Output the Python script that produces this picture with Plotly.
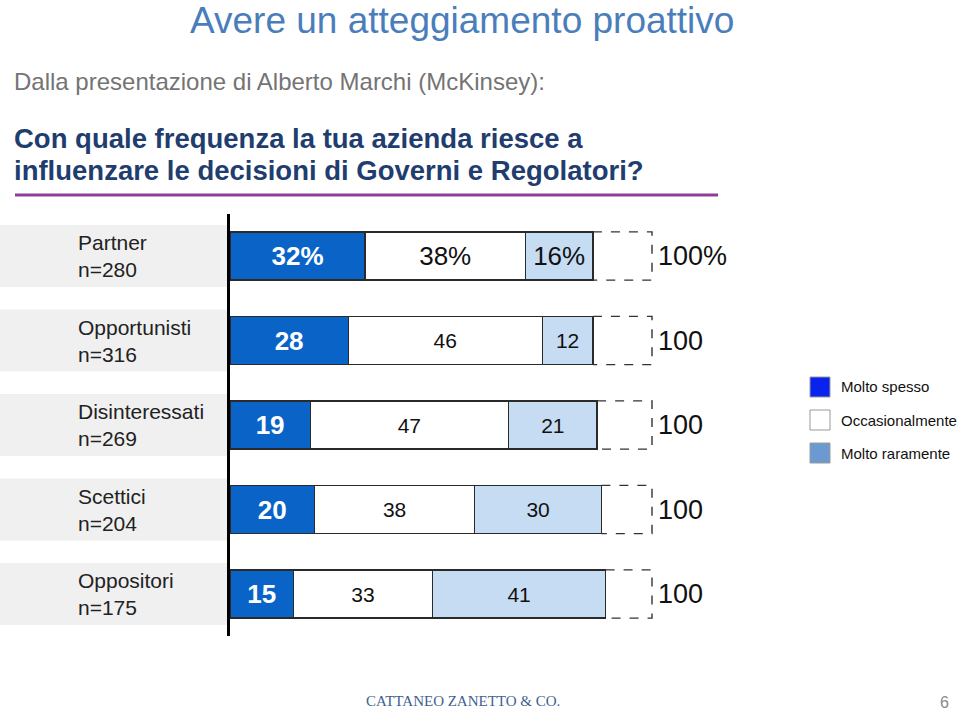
import plotly.graph_objects as go

# ---- data ----
groups = ["Partner", "Opportunisti", "Disinteressati", "Scettici", "Oppositori"]
sample_sizes = [280, 316, 269, 204, 175]
molto_spesso = [32, 28, 19, 20, 15]
occasionalmente = [38, 46, 47, 38, 33]
molto_raramente = [16, 12, 21, 30, 41]
totals = [100, 100, 100, 100, 100]
series_names = ["Molto spesso", "Occasionalmente", "Molto raramente"]

W, H = 960, 713
PX_PER_UNIT = 4.22
X0_PX = 230
SANS = "Liberation Sans, Arial, Helvetica, sans-serif"

bar_colors = ["#0A64C8", "#FFFFFF", "#C6DCF3"]
legend_colors = ["#0A22EE", "#FFFFFF", "#6A9AD0"]
BAR_W = 0.57

ypos = list(range(len(groups)))


def fmt(v, i):
    return f"{v}%" if i == 0 else f"{v}"


fig = go.Figure()
series = [molto_spesso, occasionalmente, molto_raramente]
for s, (name, vals) in enumerate(zip(series_names, series)):
    if s == 0:
        sizes = [26] * len(ypos)
        colors = ["white"] * len(ypos)
        weight = "bold"
    else:
        sizes = [26 if i == 0 else 21 for i in ypos]
        colors = ["#111111"] * len(ypos)
        weight = "normal"
    fig.add_trace(go.Bar(
        y=ypos, x=vals, orientation="h", name=name, width=BAR_W,
        marker=dict(color=bar_colors[s], line=dict(color="#2a2a2a", width=1.3)),
        text=[fmt(v, i) for i, v in enumerate(vals)],
        textposition="inside", insidetextanchor="middle", textangle=0,
        constraintext="none",
        textfont=dict(size=sizes, color=colors, family=SANS, weight=weight),
        showlegend=False, hoverinfo="skip",
    ))

shapes = []
annotations = []

# grey bands behind row labels
for i in ypos:
    shapes.append(dict(type="rect", xref="paper", yref="y", x0=0, x1=227 / W,
                       y0=i - 0.367, y1=i + 0.367, fillcolor="#F0F0F0",
                       line=dict(width=0), layer="below"))
    annotations.append(dict(xref="paper", yref="y", x=76 / W, y=i,
                            xanchor="left", yanchor="middle", align="left",
                            text=f"{groups[i]}<br>n={sample_sizes[i]}", showarrow=False,
                            font=dict(family=SANS, size=21, color="#222222")))

# dashed remainder boxes and totals
for i in ypos:
    start = molto_spesso[i] + occasionalmente[i] + molto_raramente[i]
    end = totals[i]
    top, bot = i - BAR_W / 2, i + BAR_W / 2
    shapes.append(dict(type="path", xref="x", yref="y",
                       path=f"M {start},{top} L {end},{top} L {end},{bot} L {start},{bot}",
                       line=dict(color="#333333", width=1.4, dash="dash")))
    annotations.append(dict(xref="x", yref="y", x=end, y=i, xanchor="left",
                            yanchor="middle", xshift=4,
                            text=f"{end}%" if i == 0 else f"{end}", showarrow=False,
                            font=dict(family=SANS, size=27, color="#111111")))

# titles
annotations += [
    dict(xref="paper", yref="paper", x=462 / W, y=1 - 20 / H, xanchor="center",
         yanchor="middle", text="Avere un atteggiamento proattivo", showarrow=False,
         font=dict(family=SANS, size=37, color="#4A7EBB")),
    dict(xref="paper", yref="paper", x=12 / W, y=1 - 81 / H, xanchor="left",
         yanchor="middle", text="Dalla presentazione di Alberto Marchi (McKinsey):",
         showarrow=False, font=dict(family=SANS, size=24, color="#747474")),
    dict(xref="paper", yref="paper", x=12 / W, y=1 - 138 / H, xanchor="left",
         yanchor="middle",
         text="<b>Con quale frequenza la tua azienda riesce a</b>",
         showarrow=False, font=dict(family=SANS, size=27.5, color="#1F3D6E")),
    dict(xref="paper", yref="paper", x=12 / W, y=1 - 170 / H, xanchor="left",
         yanchor="middle",
         text="<b>influenzare le decisioni di Governi e Regolatori?</b>",
         showarrow=False, font=dict(family=SANS, size=27.5, color="#1F3D6E")),
    dict(xref="paper", yref="paper", x=463 / W, y=1 - 701 / H, xanchor="center",
         yanchor="middle", text="CATTANEO ZANETTO &amp; CO.", showarrow=False,
         font=dict(family="Liberation Serif, Times New Roman, serif", size=15, color="#3F5F8F")),
    dict(xref="paper", yref="paper", x=944 / W, y=1 - 702 / H, xanchor="center",
         yanchor="middle", text="6", showarrow=False,
         font=dict(family=SANS, size=16, color="#8A8A8A")),
]

# purple underline
shapes.append(dict(type="line", xref="paper", yref="paper", x0=15 / W, x1=718 / W,
                   y0=1 - 195 / H, y1=1 - 195 / H, line=dict(color="#8E3E97", width=3)))

# legend (drawn)
for k, name in enumerate(series_names):
    cy = 387 + 33 * k
    shapes.append(dict(type="rect", xref="paper", yref="paper",
                       x0=810 / W, x1=830 / W, y0=1 - (cy + 10) / H, y1=1 - (cy - 10) / H,
                       fillcolor=legend_colors[k], line=dict(color="#9a9a9a", width=1)))
    annotations.append(dict(xref="paper", yref="paper", x=839 / W, y=1 - cy / H,
                            xanchor="left", yanchor="middle", text=name, showarrow=False,
                            font=dict(family=SANS, size=15, color="#111111")))

y_top_px, y_bot_px = 213.75, 636.25
fig.update_layout(
    width=W, height=H, margin=dict(l=0, r=0, t=0, b=0),
    paper_bgcolor="white", plot_bgcolor="white",
    barmode="stack", bargap=0,
    shapes=shapes, annotations=annotations,
    xaxis=dict(domain=[X0_PX / W, 1], range=[0, (W - X0_PX) / PX_PER_UNIT],
               visible=False, fixedrange=True),
    yaxis=dict(domain=[1 - y_bot_px / H, 1 - y_top_px / H], range=[4.5, -0.5],
               showticklabels=False, showgrid=False, zeroline=False, ticks="",
               showline=True, linecolor="black", linewidth=3, fixedrange=True),
    showlegend=False,
)

fig.write_html("out.html",
               config={"displayModeBar": False, "staticPlot": True},
               post_script="document.body.style.margin='0px';document.body.style.overflow='hidden';")
